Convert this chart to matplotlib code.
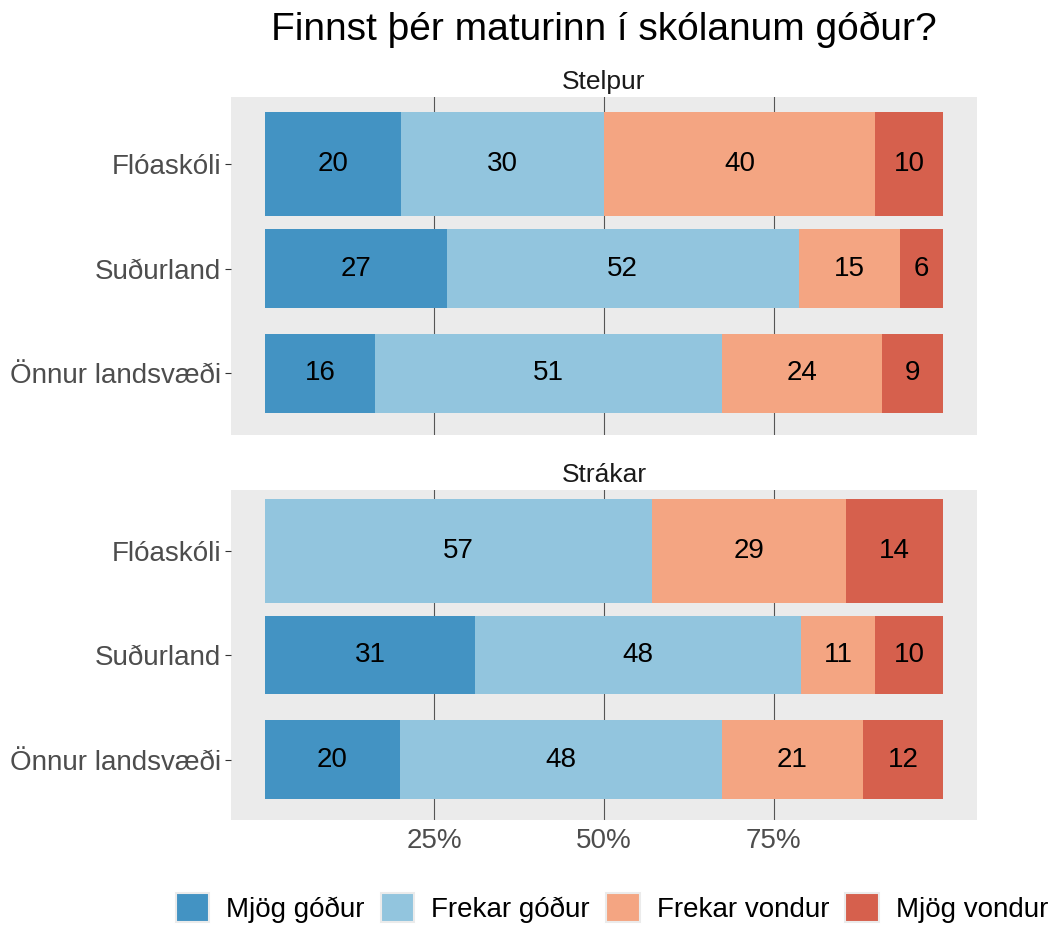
import matplotlib.pyplot as plt
from matplotlib.patches import Patch

plt.rcParams['font.family'] = ['Liberation Sans', 'DejaVu Sans']

# data =====================================================================
schools = ['Önnur landsvæði', 'Suðurland', 'Flóaskóli']   # bottom -> top
answers = ['Mjög góður', 'Frekar góður', 'Frekar vondur', 'Mjög vondur']
groups = ['Stelpur', 'Strákar']

# percentages per school (same order as schools), one list per answer
stelpur = {
    'Mjög góður':    [16.2, 26.8, 20.0],
    'Frekar góður':  [51.2, 51.9, 30.0],
    'Frekar vondur': [23.6, 15.0, 40.0],
    'Mjög vondur':   [9.0, 6.3, 10.0],
}
strakar = {
    'Mjög góður':    [19.9, 31.0, 0.0],
    'Frekar góður':  [47.5, 48.1, 57.1],
    'Frekar vondur': [20.8, 10.9, 28.6],
    'Mjög vondur':   [11.8, 10.0, 14.3],
}

colors = ['#4393C3', '#92C5DE', '#F4A582', '#D6604D']
bar_h = [0.75, 0.75, 1.0]

W, H = 1054, 926
fig = plt.figure(figsize=(W / 100, H / 100), dpi=100)

# panel boxes in pixels (left, top, right, bottom)
boxes = [(231, 97, 977, 435), (231, 490, 977, 820)]
ylims = [(0.41, 3.64), (0.42, 3.585)]
fs = 20

for i, (grp, data) in enumerate(zip(groups, [stelpur, strakar])):
    l, t, r, b = boxes[i]
    ax = fig.add_axes([l / W, 1 - b / H, (r - l) / W, (b - t) / H])
    ax.set_facecolor('#EBEBEB')
    for s in ax.spines.values():
        s.set_visible(False)
    ax.set_xlim(-5, 105)
    ax.set_ylim(*ylims[i])
    for gx in [25, 50, 75]:
        ax.axvline(gx, color='#555555', lw=0.8, zorder=0)

    left = [0.0] * len(schools)
    for ans, col in zip(answers, colors):
        vals = data[ans]
        ax.barh(range(1, len(schools) + 1), vals, left=left, height=bar_h,
                color=col, zorder=2)
        for k, v in enumerate(vals):
            if v > 0:
                ax.text(left[k] + v / 2, k + 1, f'{round(v)}', ha='center',
                        va='center', fontsize=fs, color='black', zorder=3)
        left = [a + v for a, v in zip(left, vals)]

    ax.set_yticks(range(1, len(schools) + 1))
    ax.set_yticklabels(schools, fontsize=fs, color='#4D4D4D')
    ax.tick_params(axis='y', length=4, width=0.8, color='#333333', pad=3)
    ax.set_xticks([25, 50, 75])
    if i == 1:
        ax.set_xticklabels(['25%', '50%', '75%'], fontsize=fs, color='#4D4D4D')
        ax.tick_params(axis='x', length=0, pad=6)
    else:
        ax.set_xticklabels([])
        ax.tick_params(axis='x', length=0)
    ax.set_title(grp, fontsize=19, color='#1A1A1A', pad=6)

fig.text(604 / W, 1 - 30 / H, 'Finnst þér maturinn í skólanum góður?',
         ha='center', va='center', fontsize=28)

handles = [Patch(facecolor=c, edgecolor='#EBEBEB', lw=1.5) for c in colors]
fig.legend(handles, answers, loc='center', bbox_to_anchor=(612 / W, 1 - 908 / H),
           ncol=4, frameon=False, fontsize=fs, handlelength=1.2,
           handleheight=1.25, columnspacing=0.58, handletextpad=0.62)

fig.savefig('out.png', dpi=100)
